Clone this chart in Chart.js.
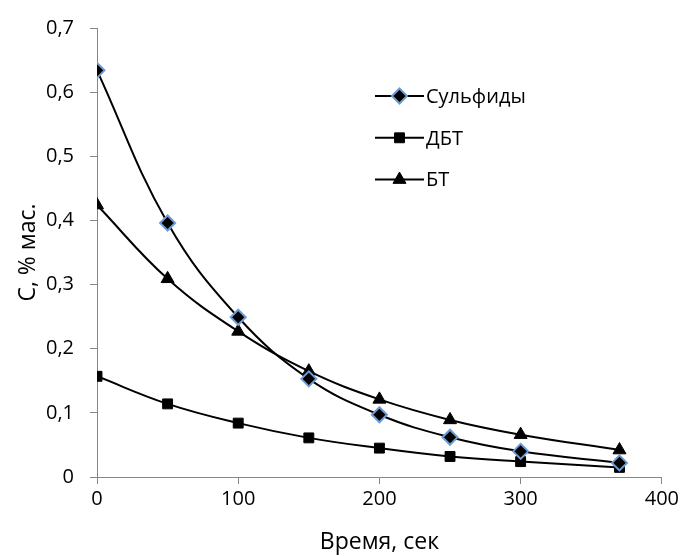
<!DOCTYPE html>
<html>
<head>
<meta charset="utf-8">
<script src="https://cdn.jsdelivr.net/npm/chart.js@4/dist/chart.umd.min.js"></script>
<style>
  html, body { margin: 0; padding: 0; background: #fff; }
  #wrap { width: 682px; height: 556px; }
</style>
</head>
<body>
<div id="wrap"><canvas id="conc" width="682" height="556"></canvas></div>
<script>
// время отбора, сек
var time = [0, 50, 100, 150, 200, 250, 300, 370];
// концентрации, % мас.
var sulfides = [0.634, 0.396, 0.249, 0.153, 0.097, 0.062, 0.040, 0.022];
var dbt = [0.157, 0.114, 0.084, 0.061, 0.045, 0.032, 0.024, 0.015];
var bt = [0.424, 0.309, 0.227, 0.165, 0.121, 0.089, 0.066, 0.042];

var seriesNames = ['Сульфиды', 'ДБТ', 'БТ'];
var xTitle = 'Время, сек';
var yTitle = 'С, % мас.';

var FONT = "'Open Sans', 'DejaVu Sans', sans-serif";
var AXIS = '#868686';

var pts = function (ys) {
    return time.map(function (t, i) { return { x: t, y: ys[i] }; });
};

// legend drawn inside the plot: short line with marker, then the name
var lineLegend = {
    id: 'lineLegend',
    afterDraw: function (chart) {
        var ctx = chart.ctx;
        var x0 = 375, x1 = 424, y0 = 96, gap = 41.8;
        chart.data.datasets.forEach(function (ds, i) {
            var y = y0 + i * gap;
            ctx.save();
            ctx.strokeStyle = ds.borderColor;
            ctx.lineWidth = ds.borderWidth;
            ctx.beginPath();
            ctx.moveTo(x0, y);
            ctx.lineTo(x1, y);
            ctx.stroke();
            ctx.fillStyle = ds.pointBackgroundColor;
            ctx.strokeStyle = ds.pointBorderColor;
            ctx.lineWidth = ds.pointBorderWidth;
            Chart.helpers.drawPoint(ctx, {
                pointStyle: ds.pointStyle,
                radius: ds.pointRadius,
                borderWidth: ds.pointBorderWidth,
                rotation: 0
            }, (x0 + x1) / 2, y);
            ctx.fillStyle = '#000';
            ctx.font = '20px ' + FONT;
            ctx.textBaseline = 'middle';
            ctx.fillText(ds.label, x1 + 2, y + 1);
            ctx.restore();
        });
    }
};

var mychart = new Chart(document.getElementById('conc'), {
    type: 'line',
    data: {
        datasets: [{
            label: seriesNames[0],
            data: pts(sulfides),
            borderColor: '#000',
            borderWidth: 2,
            pointStyle: 'rectRot',
            pointRadius: 7.5,
            pointBackgroundColor: '#000',
            pointBorderColor: '#6d9bd6',
            pointBorderWidth: 2,
            tension: 0.4
        }, {
            label: seriesNames[1],
            data: pts(dbt),
            borderColor: '#000',
            borderWidth: 2,
            pointStyle: 'rect',
            pointRadius: 7,
            pointBackgroundColor: '#000',
            pointBorderColor: '#000',
            pointBorderWidth: 1,
            tension: 0.4
        }, {
            label: seriesNames[2],
            data: pts(bt),
            borderColor: '#000',
            borderWidth: 2,
            pointStyle: 'triangle',
            pointRadius: 7.5,
            pointBackgroundColor: '#000',
            pointBorderColor: '#000',
            pointBorderWidth: 1,
            tension: 0.4
        }]
    },
    options: {
        responsive: false,
        animation: false,
        layout: { padding: { top: 25, right: 16, left: 0, bottom: 0 } },
        plugins: {
            legend: { display: false },
            tooltip: { enabled: false }
        },
        scales: {
            x: {
                type: 'linear',
                min: 0,
                max: 400,
                afterFit: function (s) { s.height = 79; },
                border: { color: AXIS, width: 1 },
                grid: { drawOnChartArea: false, drawTicks: true, tickLength: 7, color: AXIS },
                ticks: {
                    stepSize: 100,
                    padding: 3,
                    color: '#000',
                    font: { family: FONT, size: 20 },
                    maxRotation: 0
                },
                title: {
                    display: true,
                    text: xTitle,
                    color: '#000',
                    font: { family: FONT, size: 23 },
                    padding: { top: 0, bottom: 0 }
                }
            },
            y: {
                min: 0,
                max: 0.7,
                afterFit: function (s) { s.width = 97; },
                border: { color: AXIS, width: 1 },
                grid: { drawOnChartArea: false, drawTicks: true, tickLength: 7, color: AXIS },
                ticks: {
                    stepSize: 0.1,
                    padding: 16,
                    color: '#000',
                    font: { family: FONT, size: 20 },
                    callback: function (v) {
                        return v === 0 ? '0' : v.toFixed(1).replace('.', ',');
                    }
                },
                title: {
                    display: true,
                    text: yTitle,
                    color: '#000',
                    font: { family: FONT, size: 23 },
                    padding: { top: 15, bottom: 0 }
                }
            }
        }
    },
    plugins: [lineLegend]
});
</script>
</body>
</html>
